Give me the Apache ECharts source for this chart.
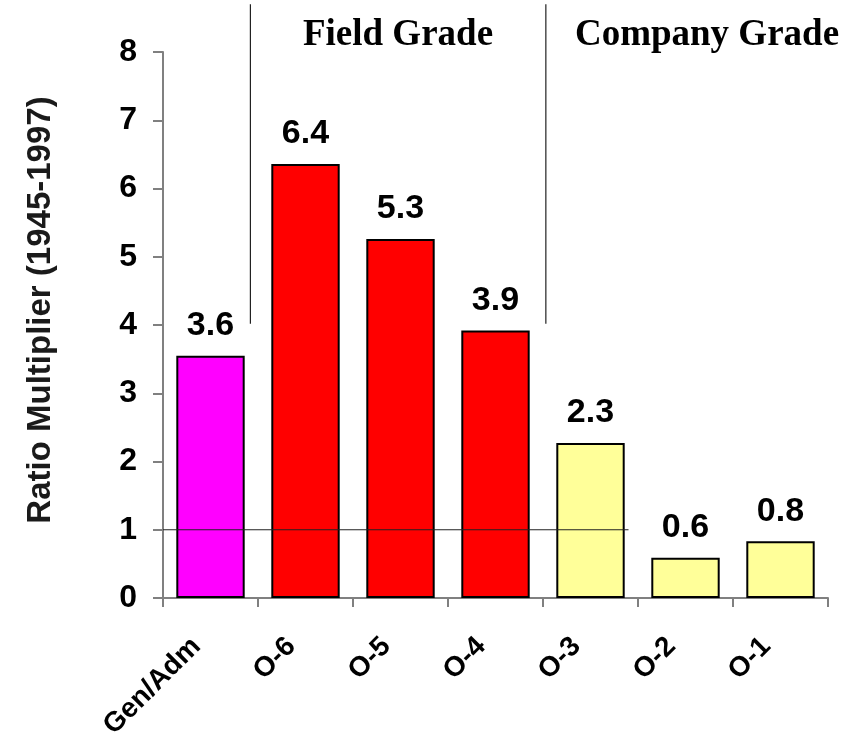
<!DOCTYPE html>
<html>
<head>
<meta charset="utf-8">
<script src="https://cdn.jsdelivr.net/npm/echarts@6/dist/echarts.min.js"></script>
<style>
html,body{margin:0;padding:0;background:#fff;}
#chart{width:863px;height:749px;}
</style>
</head>
<body>
<div id="chart"></div>
<script>
// ---- data ----
var categories = ['Gen/Adm', 'O-6', 'O-5', 'O-4', 'O-3', 'O-2', 'O-1'];
var ratioValues = [3.55, 6.36, 5.26, 3.92, 2.27, 0.59, 0.83];
var ratioLabels = ['3.6', '6.4', '5.3', '3.9', '2.3', '0.6', '0.8'];
var barGroups = ['general', 'field', 'field', 'field', 'company', 'company', 'company'];
var yTicks = [0, 1, 2, 3, 4, 5, 6, 7, 8];
var groupTitles = ['Field Grade', 'Company Grade'];
// annotation lines in axis units: [x1, y1, x2, y2] (x in category-width units from left edge)
var annotationLines = [
  [0, 1, 4.9, 1],         // reference line at ratio 1
  [0.92, 4.02, 0.92, 8.7],// separator General / Field
  [4.03, 4.02, 4.03, 8.7] // separator Field / Company
];

var groupColors = { general: '#FF00FF', field: '#FF0000', company: '#FFFF99' };

var chart = echarts.init(document.getElementById('chart'));
var option = {
  animation: false,
  backgroundColor: '#ffffff',
  grid: { left: 163, right: 35, top: 52, bottom: 151, containLabel: false },
  xAxis: [
    {
      type: 'category',
      data: categories,
      boundaryGap: true,
      axisLine: { lineStyle: { color: '#808080', width: 2 } },
      axisTick: { show: true, length: 9, lineStyle: { color: '#808080', width: 2 } },
      axisLabel: {
        rotate: 45,
        interval: 0,
        margin: 30,
        padding: [0, 20, 0, 0],
        fontFamily: 'Arial, Liberation Sans, sans-serif',
        fontWeight: 'bold',
        fontSize: 28,
        color: '#000'
      }
    },
    {
      type: 'value',
      min: 0,
      max: 7,
      show: false,
      position: 'bottom'
    }
  ],
  yAxis: {
    type: 'value',
    min: 0,
    max: 8,
    interval: 1,
    name: 'Ratio Multiplier (1945-1997)',
    nameLocation: 'middle',
    nameGap: 106,
    nameRotate: 90,
    nameTextStyle: {
      fontFamily: 'Arial, Liberation Sans, sans-serif',
      fontWeight: 'bold',
      fontSize: 33,
      color: '#1a1a1a',
      padding: [0, 0, 0, 30]
    },
    splitLine: { show: false },
    axisLine: { show: true, lineStyle: { color: '#808080', width: 2 } },
    axisTick: { show: true, length: 10, lineStyle: { color: '#808080', width: 2 } },
    axisLabel: {
      margin: 26,
      fontFamily: 'Arial, Liberation Sans, sans-serif',
      fontWeight: 'bold',
      fontSize: 32,
      color: '#000',
      formatter: function (v) { return yTicks.indexOf(v) >= 0 ? String(v) : ''; }
    }
  },
  series: [
    {
      type: 'bar',
      xAxisIndex: 0,
      yAxisIndex: 0,
      barWidth: '72%',
      z: 2,
      data: ratioValues.map(function (v, i) {
        return {
          value: v,
          itemStyle: { color: groupColors[barGroups[i]], borderColor: '#000', borderWidth: 2 }
        };
      }),
      label: {
        show: true,
        position: 'top',
        distance: 13,
        fontFamily: 'Arial, Liberation Sans, sans-serif',
        fontWeight: 'bold',
        fontSize: 34,
        color: '#000',
        formatter: function (p) { return ratioLabels[p.dataIndex]; }
      }
    },
    {
      type: 'custom',
      xAxisIndex: 1,
      yAxisIndex: 0,
      z: 5,
      silent: true,
      clip: false,
      encode: { x: [0, 2], y: [1, 3] },
      data: annotationLines,
      renderItem: function (params, api) {
        var p1 = api.coord([api.value(0), api.value(1)]);
        var p2 = api.coord([api.value(2), api.value(3)]);
        return {
          type: 'line',
          shape: { x1: p1[0], y1: p1[1], x2: p2[0], y2: p2[1] },
          style: { stroke: '#222', lineWidth: 1.2 }
        };
      }
    }
  ],
  graphic: [
    {
      type: 'text',
      x: 398,
      y: 35,
      style: {
        text: groupTitles[0],
        fontFamily: '"Liberation Serif", "Times New Roman", serif',
        fontWeight: 'bold',
        fontSize: 37,
        fill: '#000',
        textAlign: 'center',
        textVerticalAlign: 'middle'
      }
    },
    {
      type: 'text',
      x: 707,
      y: 35,
      style: {
        text: groupTitles[1],
        fontFamily: '"Liberation Serif", "Times New Roman", serif',
        fontWeight: 'bold',
        fontSize: 37,
        fill: '#000',
        textAlign: 'center',
        textVerticalAlign: 'middle'
      }
    }
  ]
};
chart.setOption(option);
</script>
</body>
</html>
